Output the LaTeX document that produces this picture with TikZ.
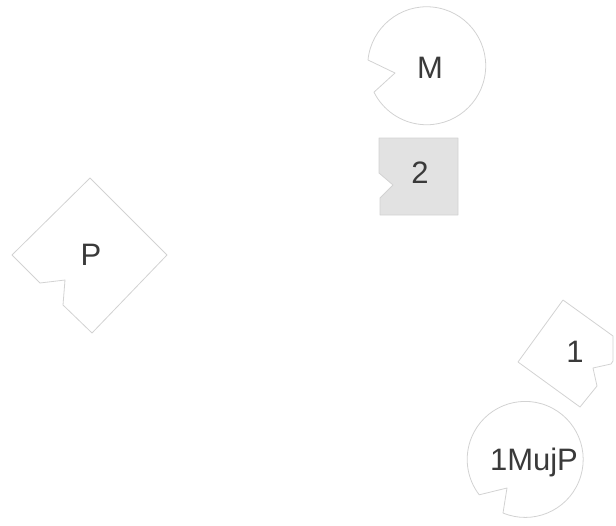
\documentclass[tikz,border=0pt]{standalone}
\usepackage{fontspec}
\setmainfont{Liberation Sans}
\definecolor{edgegray}{HTML}{D2D2D2}
\definecolor{fillgray}{HTML}{E2E2E2}
\definecolor{textgray}{HTML}{3A3A3A}
\tikzset{
  piece/.style={draw=edgegray, line width=0.8pt, line join=round},
  lbl/.style={text=textgray, font=\fontsize{31}{36}\selectfont, inner sep=0pt}
}
\begin{document}
\begin{tikzpicture}[x=1pt,y=-1pt]
\useasboundingbox (0,0) rectangle (616,525);
% M circle with notch
\draw[piece] (368,60) arc[start angle=185.6, end angle=513.4, radius=59] -- (395,73) -- cycle;
\node[lbl] (m) at (430,68) {M};
% 2 box
\draw[piece, fill=fillgray] (379,173) -- (379,138) -- (458,138) -- (458,215) -- (380,215) -- (380,198) -- (393,185) -- cycle;
\node[lbl] (two) at (420,173) {2};
% P diamond
\draw[piece] (12,255) -- (90,178) -- (167,255) -- (92,333) -- (63,305) -- (65,280) -- (40,283) -- cycle;
\node[lbl] (p) at (91,255) {P};
% 1 diamond
\draw[piece] (518,362) -- (563,300) -- (613,336) -- (613,361) -- (611,364) -- (593,368) -- (597,386) -- (580,407) -- cycle;
\node[lbl] (one) at (575,352) {1};
% 1MujP circle
\draw[piece] (503,513) arc[start angle=112.5, end angle=-217.6, radius=58] -- (507,488) -- cycle;
\node[lbl] (mujp) at (534,462) {1MujP};
\end{tikzpicture}
\end{document}
